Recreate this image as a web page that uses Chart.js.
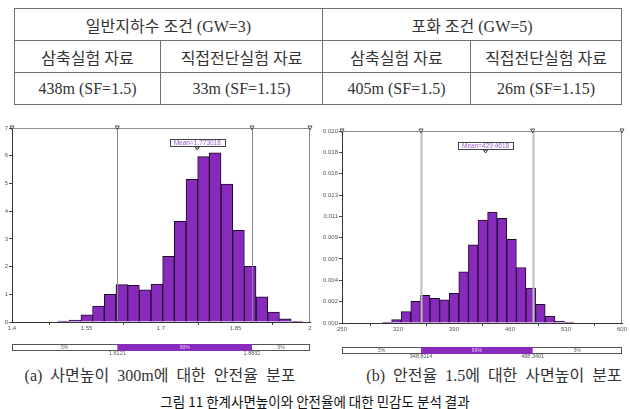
<!DOCTYPE html>
<html>
<head>
<meta charset="utf-8">
<script src="https://cdn.jsdelivr.net/npm/chart.js@4.4.0/dist/chart.umd.min.js"></script>
<style>
  body { margin: 0; width: 630px; height: 409px; overflow: hidden; background: #fff; position: relative;
         font-family: "Liberation Serif", "Noto Sans CJK KR", serif; color: #333; }
  table { position: absolute; left: 14px; top: 8px; width: 607px; border-collapse: collapse;
          table-layout: fixed; font-size: 16px; }
  td { border: 1.5px solid #707070; text-align: center; padding: 0; }
  tr { height: 32px; }
  canvas { position: absolute; }
  .cap { position: absolute; width: 320px; text-align: center; font-size: 16px; line-height: 18px;
         word-spacing: 4px; white-space: nowrap; }
  .title { position: absolute; left: 0; width: 630px; top: 392px; text-align: center;
           font-family: "Noto Sans CJK KR", sans-serif; font-size: 13.5px; line-height: 18px; color: #111; }
</style>
</head>
<body>
<table>
  <colgroup><col style="width:146px"><col style="width:162px"><col style="width:148px"><col style="width:151px"></colgroup>
  <tr><td colspan="2">일반지하수 조건 (GW=3)</td><td colspan="2">포화 조건 (GW=5)</td></tr>
  <tr><td>삼축실험 자료</td><td>직접전단실험 자료</td><td>삼축실험 자료</td><td>직접전단실험 자료</td></tr>
  <tr><td>438m (SF=1.5)</td><td>33m (SF=1.15)</td><td>405m (SF=1.5)</td><td>26m (SF=1.15)</td></tr>
</table>

<canvas id="left" width="318" height="240" style="left:0;top:118px"></canvas>
<canvas id="right" width="310" height="240" style="left:320px;top:118px"></canvas>

<div class="cap" style="left:0;top:367px">(a) 사면높이 300m에 대한 안전율 분포</div>
<div class="cap" style="left:334px;top:367px">(b) 안전율 1.5에 대한 사면높이 분포</div>
<div class="title">그림 11 한계사면높이와 안전율에 대한 민감도 분석 결과</div>

<script>
// (a) safety factor histogram, slope height 300m
const safetyBins = [1.5035, 1.5270, 1.5505, 1.5740, 1.5975, 1.6210, 1.6446, 1.6681, 1.6916, 1.7151, 1.7386,
                    1.7621, 1.7856, 1.8091, 1.8326, 1.8561, 1.8796, 1.9032, 1.9267, 1.9502, 1.9737];
const safetyCounts = [0.03, 0.07, 0.26, 0.57, 1.0, 1.35, 1.32, 1.16, 1.37, 2.37, 3.63,
                      5.15, 5.97, 6.1, 4.98, 3.31, 2.01, 0.91, 0.36, 0.11, 0.02];
const safetyXTicks = [1.4, 1.55, 1.7, 1.85, 2];
const safetyYTicks = [0, 1, 2, 3, 4, 5, 6, 7];
const safetyPct = [1.6121, 1.8832];
const safetyMean = '1.773018';

// (b) slope height histogram, safety factor 1.5
const heightBins = [306, 318, 330, 342, 354, 366, 378, 390, 402, 414, 426, 438, 450, 462, 474, 486, 498, 510, 522, 534];
const heightDensity = [0.00007, 0.00035, 0.00118, 0.00225, 0.00287, 0.00256, 0.00242, 0.00308, 0.00533, 0.00813,
                       0.01073, 0.01156, 0.01090, 0.00872, 0.00578, 0.00363, 0.00194, 0.00073, 0.0002, 0.0001];
const heightXTicks = [250, 320, 390, 460, 530, 600];
const heightYTicks = [0, 0.002222, 0.004444, 0.006667, 0.008889, 0.011111, 0.013333, 0.015556, 0.017778, 0.02];
const heightYLabels = ['0.000', '0.002', '0.004', '0.007', '0.009', '0.011', '0.013', '0.016', '0.018', '0.020'];
const heightPct = [348.8114, 488.3401];
const heightMean = '429.4618';

const PURPLE = 'rgb(136, 42, 188)';
const tickFont = { family: '"Liberation Sans", Arial', size: 6 };

// frame, percentile lines, mean tag and the 5% / 90% / 5% strip
const overlay = {
  id: 'overlay',
  afterDatasetsDraw(chart, args, o) {
    const { ctx, chartArea: a, scales: { x } } = chart;
    ctx.save();
    ctx.lineWidth = 1;
    ctx.strokeStyle = '#8c8c8c';
    ctx.beginPath();
    ctx.moveTo(a.left, a.top + 0.5);
    ctx.lineTo(a.right - 0.5, a.top + 0.5);
    ctx.lineTo(a.right - 0.5, a.bottom);
    ctx.stroke();

    ctx.strokeStyle = o.lineColor;
    ctx.lineWidth = o.lineWidth;
    o.pct.forEach(v => {
      const px = Math.round(x.getPixelForValue(v)) + 0.5;
      ctx.beginPath();
      ctx.moveTo(px, a.top);
      ctx.lineTo(px, a.bottom);
      ctx.stroke();
    });

    ctx.lineWidth = 1;
    ctx.strokeStyle = '#555';
    [x.min, ...o.pct, x.max].forEach(v => {
      const px = x.getPixelForValue(v);
      ctx.beginPath();
      ctx.moveTo(px - 2, a.top - 2);
      ctx.lineTo(px + 2, a.top - 2);
      ctx.lineTo(px, a.top + 2);
      ctx.closePath();
      ctx.stroke();
    });

    // mean tag
    const mx = x.getPixelForValue(o.meanValue);
    const text = 'Mean=' + o.mean;
    ctx.font = '6.5px "Liberation Sans", Arial';
    const w = ctx.measureText(text).width + 8;
    const ty = a.top + 11;
    ctx.fillStyle = '#fff';
    ctx.fillRect(mx - w / 2, ty, w, 7);
    ctx.strokeStyle = '#444';
    ctx.strokeRect(Math.round(mx - w / 2) + 0.5, ty + 0.5, Math.round(w), 7);
    ctx.fillStyle = '#9c5ad2';
    ctx.textAlign = 'center';
    ctx.textBaseline = 'middle';
    ctx.fillText(text, mx, ty + 4);
    ctx.strokeStyle = '#333';
    ctx.beginPath();
    ctx.moveTo(mx - 2, ty + 8);
    ctx.lineTo(mx + 2, ty + 8);
    ctx.lineTo(mx, ty + 11);
    ctx.closePath();
    ctx.stroke();

    // percentile strip
    const p1 = x.getPixelForValue(o.pct[0]);
    const p2 = x.getPixelForValue(o.pct[1]);
    const sy = a.bottom + o.stripGap;
    const sh = 6;
    ctx.fillStyle = '#fff';
    ctx.fillRect(a.left, sy, a.right - a.left, sh);
    ctx.strokeStyle = '#555';
    ctx.strokeRect(a.left + 0.5, sy + 0.5, a.right - a.left - 1, sh);
    ctx.fillStyle = PURPLE;
    ctx.fillRect(p1, sy, p2 - p1, sh + 1);
    ctx.font = '5px "Liberation Sans", Arial';
    ctx.fillStyle = '#666';
    ctx.fillText('5%', (a.left + p1) / 2, sy + 3.5);
    ctx.fillText('5%', (p2 + a.right) / 2, sy + 3.5);
    ctx.fillStyle = '#e6d6f2';
    ctx.fillText('90%', (p1 + p2) / 2, sy + 3.5);
    ctx.fillStyle = '#555';
    ctx.font = '5.5px "Liberation Sans", Arial';
    ctx.textBaseline = 'top';
    ctx.fillText(o.pctText[0], p1, sy + sh + 1);
    ctx.fillText(o.pctText[1], p2, sy + sh + 1);
    ctx.restore();
  }
};

function histChart(id, cfg) {
  return new Chart(document.getElementById(id), {
    type: 'bar',
    data: {
      datasets: [{
        data: cfg.bins.map((b, i) => ({ x: b, y: cfg.values[i] })),
        backgroundColor: PURPLE,
        borderColor: '#1d0a2b',
        borderWidth: 1,
        barPercentage: 1,
        categoryPercentage: 1
      }]
    },
    options: {
      responsive: false,
      animation: false,
      events: [],
      layout: { padding: { top: cfg.padTop, right: 8, left: 0, bottom: 0 } },
      scales: {
        x: {
          type: 'linear',
          min: cfg.xTicks[0],
          max: cfg.xTicks[cfg.xTicks.length - 1],
          offset: false,
          grid: { drawOnChartArea: false, tickLength: 3, color: '#444' },
          border: { color: '#333' },
          afterBuildTicks: s => { s.ticks = cfg.xTicks.map(v => ({ value: v })); },
          afterFit: s => { s.height = cfg.xHeight; },
          ticks: { font: tickFont, color: '#555', padding: 0, autoSkip: false, maxRotation: 0,
                   callback: v => String(v) }
        },
        y: {
          min: 0,
          max: cfg.yTicks[cfg.yTicks.length - 1],
          grid: { drawOnChartArea: false, tickLength: 3, color: '#444' },
          border: { color: '#333' },
          afterBuildTicks: s => { s.ticks = cfg.yTicks.map(v => ({ value: v })); },
          afterFit: s => { s.width = cfg.yWidth; },
          ticks: { font: tickFont, color: '#555', padding: 1, autoSkip: false,
                   callback: (v, i) => cfg.yLabels[i] }
        }
      },
      plugins: {
        legend: { display: false },
        tooltip: { enabled: false },
        overlay: cfg.overlay
      }
    },
    plugins: [overlay]
  });
}

histChart('left', {
  bins: safetyBins, values: safetyCounts,
  xTicks: safetyXTicks, yTicks: safetyYTicks, yLabels: safetyYTicks.map(String),
  padTop: 10, xHeight: 36, yWidth: 12,
  overlay: { pct: safetyPct, pctText: safetyPct.map(String), meanValue: parseFloat(safetyMean), mean: safetyMean,
             lineColor: '#8a8a8a', lineWidth: 1, stripGap: 22 }
});

histChart('right', {
  bins: heightBins, values: heightDensity,
  xTicks: heightXTicks, yTicks: heightYTicks, yLabels: heightYLabels,
  padTop: 13, xHeight: 35, yWidth: 22,
  overlay: { pct: heightPct, pctText: heightPct.map(String), meanValue: parseFloat(heightMean), mean: heightMean,
             lineColor: '#bdbdbd', lineWidth: 2, stripGap: 24 }
});
</script>
</body>
</html>
